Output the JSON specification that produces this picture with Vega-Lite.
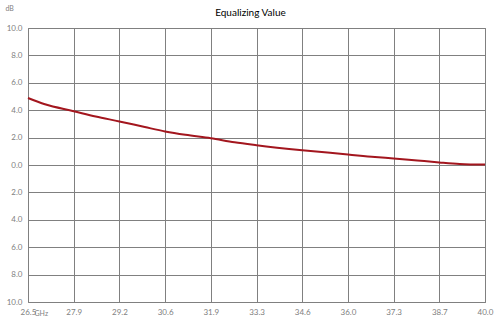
{
  "$schema": "https://vega.github.io/schema/vega-lite/v6.json",
  "autosize": "none",
  "width": 457,
  "height": 274,
  "padding": {"left": 28, "top": 28, "right": 15, "bottom": 32},
  "background": "white",
  "title": {"text": "Equalizing Value", "fontSize": 10, "font": "Lato", "fontWeight": "normal", "color": "#000000", "offset": 9, "dx": -6, "dy": 23, "anchor": "middle"},
  "config": {"view": {"stroke": "#808080", "strokeWidth": 1}},
  "data": {"values": [
    {"f": 26.5, "v": 4.89},
    {"f": 27.0, "v": 4.43},
    {"f": 27.85, "v": 3.93},
    {"f": 28.5, "v": 3.54},
    {"f": 29.2, "v": 3.18},
    {"f": 29.95, "v": 2.77},
    {"f": 30.55, "v": 2.45},
    {"f": 31.15, "v": 2.2},
    {"f": 31.9, "v": 1.95},
    {"f": 32.6, "v": 1.66},
    {"f": 33.25, "v": 1.45},
    {"f": 34.6, "v": 1.08},
    {"f": 35.95, "v": 0.77},
    {"f": 36.75, "v": 0.58},
    {"f": 37.3, "v": 0.48},
    {"f": 38.0, "v": 0.33},
    {"f": 38.65, "v": 0.19},
    {"f": 39.25, "v": 0.08},
    {"f": 40.0, "v": 0.03}
  ]},
  "mark": {"type": "line", "color": "#a3161e", "strokeWidth": 2, "interpolate": "monotone"},
  "encoding": {
    "x": {
      "field": "f", "type": "quantitative",
      "scale": {"domain": [26.5, 40.0], "nice": false, "zero": false},
      "axis": {
        "values": [26.5, 27.851, 29.2, 30.551, 31.9, 33.251, 34.6, 35.951, 37.3, 38.651, 40.0],
        "labelExpr": "format(datum.value, '.1f')",
        "grid": true, "gridColor": "#808080", "gridWidth": 1, "gridOpacity": 1,
        "domain": false, "ticks": false,
        "labelFont": "Lato", "labelFontSize": 8, "labelColor": "#808080", "labelPadding": 6,
        "labelFlush": false,
        "title": "GHz", "titleFont": "Lato", "titleFontSize": 7, "titleFontWeight": "normal", "titleColor": "#808080",
        "titleAnchor": "start", "titleAlign": "left", "titleX": 6, "titleY": 11, "titleBaseline": "middle"
      }
    },
    "y": {
      "field": "v", "type": "quantitative",
      "scale": {"domain": [-10, 10], "nice": false},
      "axis": {
        "values": [-10, -8, -6, -4, -2, 0, 2, 4, 6, 8, 10],
        "labelExpr": "format(abs(datum.value), '.1f')",
        "grid": true, "gridColor": "#808080", "gridWidth": 1, "gridOpacity": 1,
        "domain": false, "ticks": false,
        "labelFont": "Lato", "labelFontSize": 8, "labelColor": "#808080", "labelPadding": 6,
        "title": "dB", "titleFont": "Lato", "titleFontSize": 7, "titleFontWeight": "normal", "titleColor": "#808080",
        "titleAngle": 0, "titleAlign": "left", "titleX": -23, "titleY": -20, "titleBaseline": "middle"
      }
    }
  }
}
